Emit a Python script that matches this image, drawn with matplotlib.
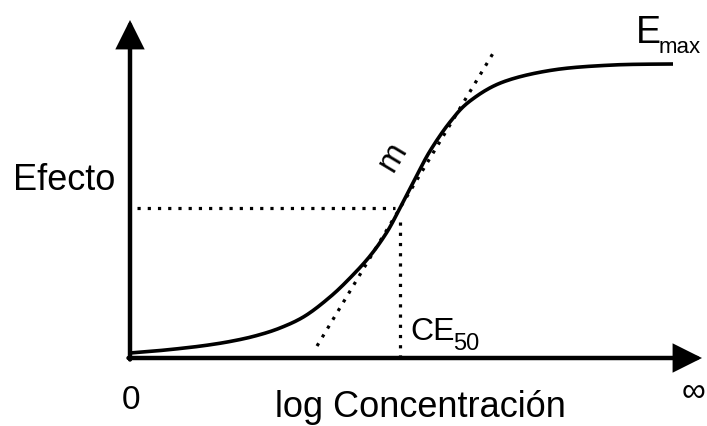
import matplotlib
matplotlib.use("Agg")
import matplotlib.pyplot as plt
import numpy as np

# ---- data (arbitrary units: log concentration vs effect) ----
log_conc = [0, 25, 50, 75, 100, 125, 150, 175, 200, 220, 240, 257, 270, 285, 300, 320, 340, 373, 423, 483, 543]
effect = [5, 7, 9.5, 12.5, 16.5, 22, 30, 42, 61, 80, 102, 126, 150, 179, 207, 236, 257, 276, 288, 293, 294]
ce50 = 270
half_effect = 150
slope_m = 1.663
tangent_x = [187, 365]
x_axis_end = 572
y_axis_end = 338

FAM = ['Liberation Sans', 'DejaVu Sans']


def catmull_rom(x, y, n=20):
    x = np.asarray(x, float); y = np.asarray(y, float)
    P = np.column_stack([x, y])
    P = np.vstack([P[0], P, P[-1]])
    out = []
    for i in range(1, len(P) - 2):
        p0, p1, p2, p3 = P[i - 1], P[i], P[i + 1], P[i + 2]
        t = np.linspace(0, 1, n, endpoint=False)[:, None]
        pts = 0.5 * ((2 * p1) + (-p0 + p2) * t + (2 * p0 - 5 * p1 + 4 * p2 - p3) * t ** 2
                     + (-p0 + 3 * p1 - 3 * p2 + p3) * t ** 3)
        out.append(pts)
    out.append(P[-2][None, :])
    out = np.vstack(out)
    return out[:, 0], out[:, 1]


fig = plt.figure(figsize=(7.07, 4.26), dpi=100)
ax = fig.add_axes([0, 0, 1, 1])
ax.set_xlim(-130, 577)
ax.set_ylim(-68, 358)
ax.axis('off')

# axes arrows
arrow_kw = dict(arrowstyle='-|>,head_length=0.8,head_width=0.4', lw=3.2, color='black',
                mutation_scale=20, shrinkA=0, shrinkB=0, joinstyle='miter')
ax.annotate('', xy=(0, y_axis_end), xytext=(0, -1.5), arrowprops=arrow_kw)
ax.annotate('', xy=(x_axis_end, 0), xytext=(-1.5, 0), arrowprops=arrow_kw)

# curve
cx, cy = catmull_rom(log_conc, effect)
ax.plot(cx, cy, color='black', lw=2.6, solid_capstyle='butt', zorder=3)

# dotted reference lines
dot = dict(color='black', lw=2.3, linestyle=(0, (1, 2.2)), zorder=2)
ax.plot([7, ce50 - 5], [half_effect, half_effect], **dot)
ax.plot([ce50, ce50], [half_effect - 14, 2], **dot)
tx = np.array(tangent_x, float)
ty = half_effect + slope_m * (tx - ce50)
ax.plot(tx, ty, **dot)

# labels
ax.text(-117, 168, 'Efecto', fontsize=26, family=FAM, ha='left', va='baseline')
ax.text(1, -51, '0', fontsize=24, family=FAM, ha='center', va='baseline')
ax.text(145, -59, 'log Concentración', fontsize=26, family=FAM, ha='left', va='baseline')
ax.text(280, 18, 'CE', fontsize=23, family=FAM, ha='left', va='baseline')
ax.text(323, 8, '50', fontsize=17, family=FAM, ha='left', va='baseline')
ax.text(506, 315, 'E', fontsize=27, family=FAM, ha='left', va='baseline')
ax.text(529, 305, 'max', fontsize=16, family=FAM, ha='left', va='baseline')
ax.text(263, 201, 'm', fontsize=24, family=FAM, ha='center', va='center', rotation=59)
ax.text(552, -43, '∞', fontsize=24, family=FAM, ha='left', va='baseline')

fig.savefig('out.png', dpi=100)
